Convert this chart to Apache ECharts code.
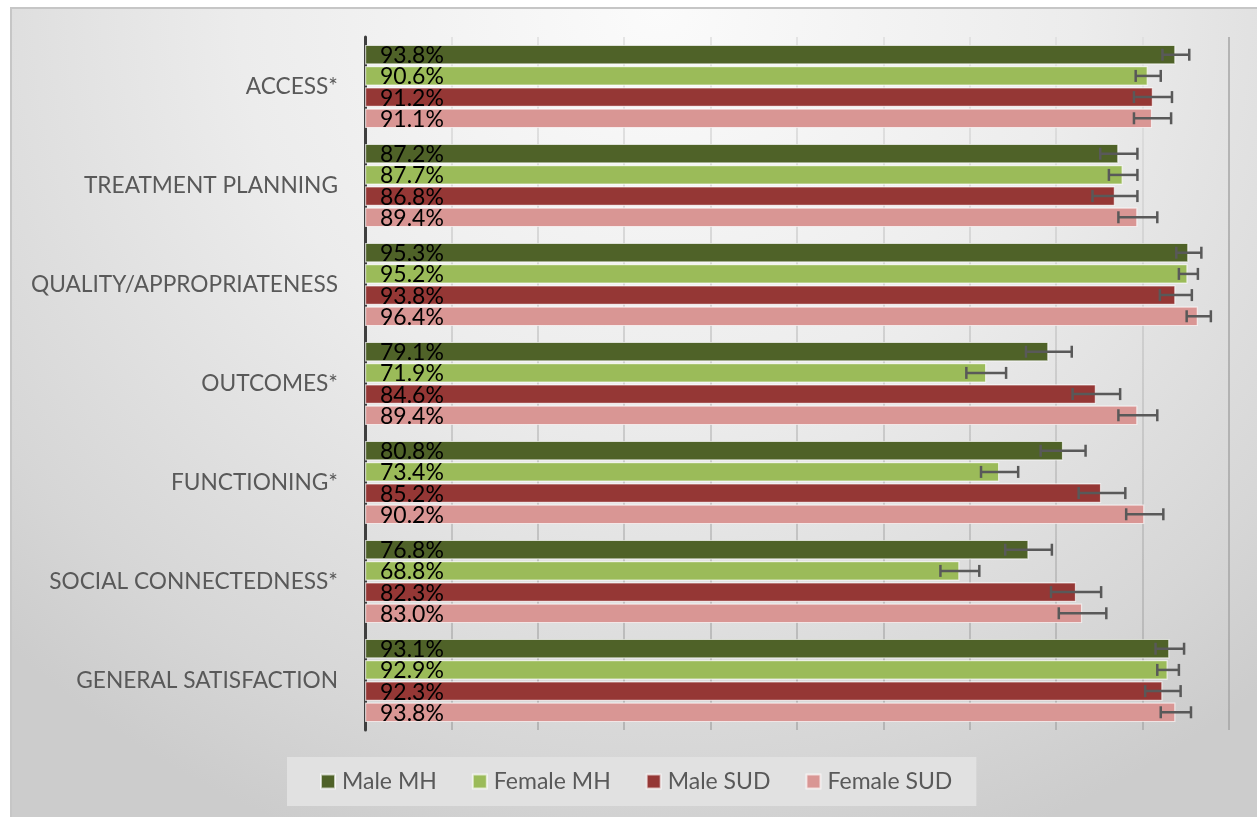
<!DOCTYPE html>
<html>
<head>
<meta charset="utf-8">
<script src="https://cdn.jsdelivr.net/npm/echarts@6/dist/echarts.min.js"></script>
<style>
  html, body { margin: 0; padding: 0; background: #ffffff; }
  #frame {
    position: absolute; left: 10px; top: 7px; width: 1247px; height: 810px;
    border-top: 2px solid #c6c6c6; border-left: 2px solid #c6c6c6; box-sizing: border-box;
    background: radial-gradient(ellipse 75% 110% at 52% 0%, #fbfbfb 0%, #ececec 45%, #d6d6d6 85%, #cccccc 100%);
  }
  #chart { position: absolute; left: 0; top: 0; width: 1257px; height: 817px; }
</style>
</head>
<body>
<div id="frame"></div>
<div id="chart"></div>
<script>
const categories = ['ACCESS*', 'TREATMENT PLANNING', 'QUALITY/APPROPRIATENESS', 'OUTCOMES*', 'FUNCTIONING*', 'SOCIAL CONNECTEDNESS*', 'GENERAL SATISFACTION'];
const seriesNames = ['Male MH', 'Female MH', 'Male SUD', 'Female SUD'];

const maleMH    = [93.8, 87.2, 95.3, 79.1, 80.8, 76.8, 93.1];
const femaleMH  = [90.6, 87.7, 95.2, 71.9, 73.4, 68.8, 92.9];
const maleSUD   = [91.2, 86.8, 93.8, 84.6, 85.2, 82.3, 92.3];
const femaleSUD = [91.1, 89.4, 96.4, 89.4, 90.2, 83.0, 93.8];

const maleMHLow     = [92.3, 85.1, 93.9, 76.5, 78.2, 74.1, 91.5];
const maleMHHigh    = [95.4, 89.4, 96.8, 81.8, 83.4, 79.5, 94.8];
const femaleMHLow   = [89.2, 86.1, 94.2, 69.6, 71.3, 66.6, 91.7];
const femaleMHHigh  = [92.1, 89.4, 96.4, 74.2, 75.6, 71.1, 94.2];
const maleSUDLow    = [89.0, 84.2, 92.0, 81.9, 82.6, 79.4, 90.3];
const maleSUDHigh   = [93.4, 89.4, 95.7, 87.4, 88.0, 85.2, 94.4];
const femaleSUDLow  = [89.0, 87.2, 95.1, 87.2, 88.1, 80.3, 92.1];
const femaleSUDHigh = [93.3, 91.7, 97.9, 91.7, 92.4, 85.8, 95.6];

const xTicks = [0, 10, 20, 30, 40, 50, 60, 70, 80, 90, 100];

const values = [maleMH, femaleMH, maleSUD, femaleSUD];
const lows = [maleMHLow, femaleMHLow, maleSUDLow, femaleSUDLow];
const highs = [maleMHHigh, femaleMHHigh, maleSUDHigh, femaleSUDHigh];
const colors = ['#4f6228', '#9bbb59', '#953735', '#d99694'];

const CAT_GAP = 0.16, BAR_GAP = 0.08;
const FONT = 'Lato, "Open Sans", sans-serif';

const barSeries = values.map((arr, k) => ({
  name: seriesNames[k],
  type: 'bar',
  data: arr,
  barCategoryGap: (CAT_GAP * 100) + '%',
  barGap: (BAR_GAP * 100) + '%',
  itemStyle: { color: colors[k], borderColor: 'rgba(255,255,255,0.65)', borderWidth: 1.2 },
  label: { show: false },
  z: 2
}));

// Error bars and value labels, positioned through the axes' own scales
const errSeries = values.map((arr, k) => ({
  name: 'err' + k,
  type: 'custom',
  z: 4,
  silent: true,
  encode: { x: [0, 2], y: 1 },
  data: categories.map((c, i) => [lows[k][i], i, highs[k][i], arr[i]]),
  renderItem: function (params, api) {
    const lo = api.coord([api.value(0), api.value(1)]);
    const hi = api.coord([api.value(2), api.value(1)]);
    const base = api.coord([0, api.value(1)]);
    const H = api.size([0, 1])[1];
    const group = H * (1 - CAT_GAP);
    const w = group / (4 + 3 * BAR_GAP);
    const y = lo[1] - group / 2 + k * w * (1 + BAR_GAP) + w / 2;
    const cap = 6;
    const style = { stroke: '#595959', lineWidth: 2.5 };
    return {
      type: 'group',
      children: [
        { type: 'text', x: base[0] + 15, y: y + 1,
          style: { text: api.value(3).toFixed(1) + '%', fill: '#000', font: '23px ' + FONT,
                   align: 'left', verticalAlign: 'middle' } },
        { type: 'line', shape: { x1: lo[0], y1: y, x2: hi[0], y2: y }, style: style },
        { type: 'line', shape: { x1: lo[0], y1: y - cap, x2: lo[0], y2: y + cap }, style: style },
        { type: 'line', shape: { x1: hi[0], y1: y - cap, x2: hi[0], y2: y + cap }, style: style }
      ]
    };
  }
}));

const gridTop = 37, gridBottom = 730;
const lightGrid = { type: 'linear', global: true, x: 0, y: gridTop, x2: 0, y2: gridBottom,
  colorStops: [{ offset: 0, color: '#dedede' }, { offset: 1, color: '#a9a9a9' }] };
const splitColors = xTicks.map((t, i) => i === xTicks.length - 1 ? '#a4a4a4' : lightGrid);

const chart = echarts.init(document.getElementById('chart'), null, { renderer: 'canvas' });
chart.setOption({
  animation: false,
  backgroundColor: 'transparent',
  grid: { left: 365, right: 28, top: gridTop, bottom: 817 - gridBottom, containLabel: false },
  xAxis: {
    type: 'value', min: xTicks[0], max: xTicks[xTicks.length - 1], interval: 10,
    axisLabel: { show: false }, axisLine: { show: false }, axisTick: { show: false },
    splitLine: { show: true, lineStyle: { color: splitColors, width: 1.5 } }
  },
  yAxis: {
    type: 'category', data: categories, inverse: true,
    axisLine: { show: true, lineStyle: { color: '#3f3f3f', width: 3 } },
    axisTick: { show: false },
    axisLabel: { color: '#595959', fontSize: 22.7, fontFamily: FONT, margin: 27 }
  },
  legend: {
    data: seriesNames,
    left: 287, top: 757,
    padding: [13, 24, 13, 33],
    backgroundColor: '#e1e1e1',
    itemWidth: 14, itemHeight: 14, itemGap: 35,
    icon: 'rect',
    textStyle: { color: '#595959', fontSize: 23, fontFamily: FONT, padding: [0, 0, 0, 2] }
  },
  series: barSeries.concat(errSeries)
});
</script>
</body>
</html>
